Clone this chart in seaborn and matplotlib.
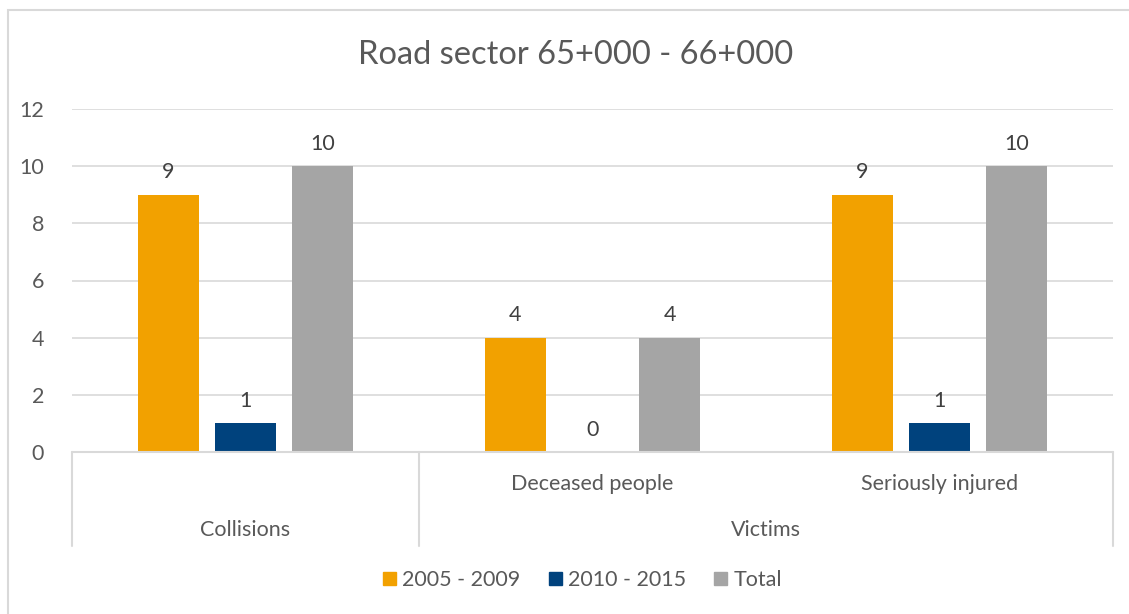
import pandas as pd
import numpy as np
import matplotlib.pyplot as plt
import matplotlib.transforms as mtransforms
from matplotlib.patches import Rectangle
import seaborn as sns

# Chart data
categories = ['Collisions', 'Deceased people', 'Seriously injured']
groups = ['', 'Victims', 'Victims']
series = ['2005 - 2009', '2010 - 2015', 'Total']
values_2005_2009 = [9, 4, 9]
values_2010_2015 = [1, 0, 1]
values_total = [10, 4, 10]
colors = ['#F2A100', '#00427D', '#A5A5A5']

# Long format table for seaborn
df = pd.DataFrame({
    'category': categories * 3,
    'period': np.repeat(series, len(categories)),
    'value': values_2005_2009 + values_2010_2015 + values_total,
})

sns.set_style('white')
plt.rcParams['font.family'] = ['Lato', 'DejaVu Sans']
text_color = '#595959'
line_color = '#D9D9D9'
fs = 15.5

fig = plt.figure(figsize=(11.29, 6.14), dpi=100)
ax = fig.add_axes([72 / 1129, 1 - 452 / 614, (1113 - 72) / 1129, (452 - 109) / 614])

sns.barplot(data=df, x='category', y='value', hue='period', order=categories,
            hue_order=series, palette=colors, width=0.666, gap=0.21,
            saturation=1, legend=False, linewidth=0, ax=ax)

ax.set_xlim(-0.5, len(categories) - 0.5)
ax.set_ylim(0, 12)
ax.set_yticks(np.arange(0, 13, 2))
ax.yaxis.grid(True, color=line_color, linewidth=1.2)
ax.set_axisbelow(True)
for s in ax.spines.values():
    s.set_visible(False)
ax.tick_params(axis='y', length=0, pad=20, labelsize=fs, labelcolor=text_color)
ax.set_xticks([])
ax.set_xlabel('')
ax.set_ylabel('')

# value labels
for cont in ax.containers:
    ax.bar_label(cont, padding=9, fontsize=fs, color='#404040')

# multi-level category axis
trans = mtransforms.blended_transform_factory(ax.transData, ax.transAxes)
depth = -(546 - 452) / 343
ax.plot([-0.5, 2.5], [0, 0], transform=trans, color=line_color, lw=1.5, clip_on=False)
for xv in [-0.5, 0.5, 2.5]:
    ax.plot([xv, xv], [0, depth], transform=trans, color=line_color, lw=1.5, clip_on=False)

row1 = -(484 - 452) / 343
row2 = -(530 - 452) / 343
for i, cat in enumerate(categories):
    if groups[i]:
        ax.text(i, row1, cat, transform=trans, ha='center', va='center',
                fontsize=fs, color=text_color)
    else:
        ax.text(i, row2, cat, transform=trans, ha='center', va='center',
                fontsize=fs, color=text_color)
ax.text(1.5, row2, 'Victims', transform=trans, ha='center', va='center',
        fontsize=fs, color=text_color)

# legend
handles = [Rectangle((0, 0), 1, 1, color=c) for c in colors]
fig.legend(handles, series, loc='center', bbox_to_anchor=(0.516, 1 - 580 / 614),
           ncol=3, frameon=False, fontsize=fs, handlelength=0.6, handleheight=0.6,
           handletextpad=0.3, columnspacing=1.3, labelcolor=text_color)

# title
fig.text(576 / 1129, 1 - 55 / 614, 'Road sector 65+000 - 66+000', ha='center', va='center',
         fontsize=23.5, color=text_color)

# chart area border
fig.patches.append(Rectangle((8 / 1129, -0.01), 1.1, 1 - 10 / 614 + 0.01,
                             transform=fig.transFigure, fill=False,
                             edgecolor=line_color, lw=1.5))

fig.savefig('out.png', dpi=100)
